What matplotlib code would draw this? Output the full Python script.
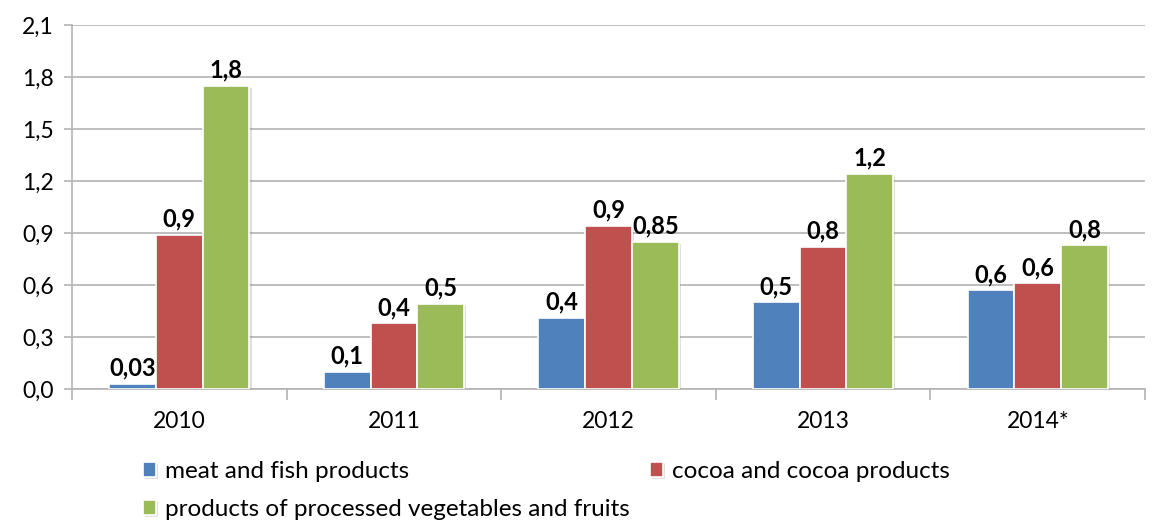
import numpy as np
import matplotlib
matplotlib.use("Agg")
import matplotlib.pyplot as plt
import matplotlib.patheffects as PathEffects

plt.rcParams["font.family"] = ["Lato", "DejaVu Sans"]

years = ["2010", "2011", "2012", "2013", "2014*"]
series_names = ["meat and fish products",
                "cocoa and cocoa products",
                "products of processed vegetables and fruits"]
meat = [0.03, 0.10, 0.41, 0.50, 0.57]
cocoa = [0.89, 0.38, 0.94, 0.82, 0.61]
veg = [1.75, 0.49, 0.85, 1.24, 0.83]
meat_labels = ["0,03", "0,1", "0,4", "0,5", "0,6"]
cocoa_labels = ["0,9", "0,4", "0,9", "0,8", "0,6"]
veg_labels = ["1,8", "0,5", "0,85", "1,2", "0,8"]
y_ticks = [0.0, 0.3, 0.6, 0.9, 1.2, 1.5, 1.8, 2.1]

colors = ["#4F81BD", "#C0504D", "#9BBB59"]
grid_c = "#B3B3B3"
fs = 16.5

fig = plt.figure(figsize=(11.53, 5.21), dpi=100)
ax = fig.add_axes([72 / 1153, 1 - 389 / 521, (1145 - 72) / 1153, (389 - 25) / 521])

x = np.arange(len(years))
w = 0.218
shadow = [PathEffects.SimplePatchShadow(offset=(1.5, -1.5), alpha=0.25, shadow_rgbFace="#808080"),
          PathEffects.Normal()]
handles = []
for i, (vals, labs) in enumerate(zip([meat, cocoa, veg], [meat_labels, cocoa_labels, veg_labels])):
    bars = ax.bar(x + (i - 1) * w, vals, w, color=colors[i], edgecolor="white",
                  linewidth=1.2, label=series_names[i], zorder=3)
    for b in bars:
        b.set_path_effects(shadow)
    ax.bar_label(bars, labels=labs, padding=3, fontsize=17, fontweight="bold",
                 color="black", zorder=4)
    handles.append(bars)

ax.set_xlim(-0.5, len(years) - 0.5)
ax.set_ylim(0, 2.1)
ax.set_yticks(y_ticks)
ax.set_yticklabels([f"{t:.1f}".replace(".", ",") for t in y_ticks], fontsize=fs)
ax.yaxis.grid(True, color=grid_c, linewidth=1.2, zorder=0)
ax.set_axisbelow(True)

ax.set_xticks(x)
ax.set_xticklabels(years, fontsize=fs)
ax.tick_params(axis="x", length=0, pad=16)
ax.set_xticks(np.arange(-0.5, len(years)), minor=True)
ax.tick_params(axis="x", which="minor", length=8, color=grid_c, width=1.2)
ax.tick_params(axis="y", length=6, color=grid_c, width=1.2, pad=7)

for s in ["top", "right"]:
    ax.spines[s].set_visible(False)
for s in ["left", "bottom"]:
    ax.spines[s].set_color(grid_c)
    ax.spines[s].set_linewidth(1.2)

# legend laid out in two fixed slots: meat / veg on the left, cocoa on the right
leg_kw = dict(loc="upper left", frameon=False, fontsize=17.5, handlelength=0.55,
              handleheight=0.55, handletextpad=0.35, labelspacing=0.7, borderaxespad=0,
              borderpad=0)
leg1 = fig.legend([handles[0], handles[2]], [series_names[0], series_names[2]],
                  bbox_to_anchor=(143 / 1153, 1 - 461 / 521), **leg_kw)
leg2 = fig.legend([handles[1]], [series_names[1]],
                  bbox_to_anchor=(650 / 1153, 1 - 461 / 521), **leg_kw)

fig.savefig("out.png", dpi=100)
